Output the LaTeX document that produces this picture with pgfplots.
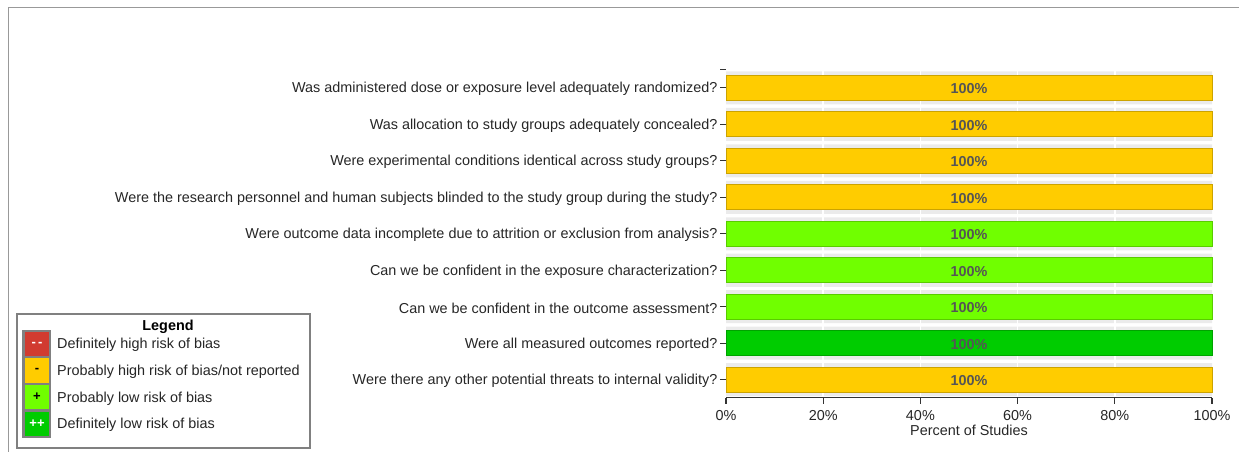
\documentclass[border=0pt]{standalone}
\usepackage{pgfplots}
\pgfplotsset{compat=1.18}
\usepackage{fontspec}
\setmainfont{Liberation Sans}

\definecolor{rred}{HTML}{D13B30}
\definecolor{ryellow}{HTML}{FFCC00}
\definecolor{ryellowd}{HTML}{CCA300}
\definecolor{lgreen}{HTML}{70FF00}
\definecolor{lgreend}{HTML}{59CC00}
\definecolor{dgreen}{HTML}{00CC00}
\definecolor{dgreend}{HTML}{00A300}
\definecolor{bandgray}{HTML}{EBEBEB}
\definecolor{pcttext}{HTML}{555555}
\definecolor{axisgray}{HTML}{333333}

\begin{document}
\begin{tikzpicture}[x=1pt,y=1pt]
\path[use as bounding box] (0,0) rectangle (1239,452);
\draw[gray!80, line width=1pt] (8,0) -- (8,444) -- (1239,444);

\begin{axis}[
    at={(726pt,54pt)}, anchor=south west,
    scale only axis,
    width=486pt, height=328.5pt,
    xmin=0, xmax=100,
    ymin=0.5, ymax=9.5,
    axis x line*=bottom,
    axis y line*=left,
    y axis line style={draw=none},
    x axis line style={draw=axisgray, line width=1pt},
    tick align=outside,
    major tick length=6pt,
    tick style={axisgray, line width=1.1pt},
    xtick={0,20,40,60,80,100},
    xticklabel={\pgfmathprintnumber{\tick}\%},
    xticklabel style={yshift=-3pt},
    ytick={1,2,3,4,5,6,7,8,9},
    yticklabels={
        Were there any other potential threats to internal validity?,
        Were all measured outcomes reported?,
        Can we be confident in the outcome assessment?,
        Can we be confident in the exposure characterization?,
        Were outcome data incomplete due to attrition or exclusion from analysis?,
        Were the research personnel and human subjects blinded to the study group during the study?,
        Were experimental conditions identical across study groups?,
        Was allocation to study groups adequately concealed?,
        Was administered dose or exposure level adequately randomized?},
    yticklabel style={yshift=-1.5pt, xshift=1pt},
    extra y ticks={9.5},
    extra y tick labels={},
    tick label style={font=\fontsize{14.4}{16}\selectfont, text=black!85},
    /pgf/number format/assume math mode=true,
    xlabel={Percent of Studies},
    xlabel style={font=\fontsize{14.4}{16}\selectfont, text=black!85, yshift=3pt},
    clip=false,
]

% row backgrounds
\addplot[xbar, bar width=33pt, bar shift=0pt, fill=bandgray, draw=none]
    coordinates {(100,1)(100,2)(100,3)(100,4)(100,5)(100,6)(100,7)(100,8)(100,9)};
% white grid lines
\addplot[white, line width=1.5pt] coordinates {(20,0.54)(20,9.46)};
\addplot[white, line width=1.5pt] coordinates {(40,0.54)(40,9.46)};
\addplot[white, line width=1.5pt] coordinates {(60,0.54)(60,9.46)};
\addplot[white, line width=1.5pt] coordinates {(80,0.54)(80,9.46)};

\pgfplotsset{every node near coord/.append style={anchor=center, xshift=-243pt, yshift=-1pt,
    font=\fontsize{14.4}{16}\selectfont\bfseries, text=pcttext}}

% probably high risk / not reported
\addplot[xbar, bar width=25pt, bar shift=0pt, fill=ryellow, draw=ryellowd, line width=1pt,
    nodes near coords={\pgfmathprintnumber{\pgfplotspointmeta}\%}, point meta=x]
    coordinates {(100,9)(100,8)(100,7)(100,6)(100,1)};
% probably low risk
\addplot[xbar, bar width=25pt, bar shift=0pt, fill=lgreen, draw=lgreend, line width=1pt,
    nodes near coords={\pgfmathprintnumber{\pgfplotspointmeta}\%}, point meta=x]
    coordinates {(100,5)(100,4)(100,3)};
% definitely low risk
\addplot[xbar, bar width=25pt, bar shift=0pt, fill=dgreen, draw=dgreend, line width=1pt,
    nodes near coords={\pgfmathprintnumber{\pgfplotspointmeta}\%}, point meta=x]
    coordinates {(100,2)};
\end{axis}

% legend
\draw[gray, line width=2.5pt, fill=white] (17,4) rectangle (310,138);
\node[font=\fontsize{14.4}{16}\selectfont\bfseries] at (168,125) {Legend};
\fill[gray] (22,14) rectangle (51,122);
\fill[rred] (25,96) rectangle (49,120);
\fill[ryellow] (25,69) rectangle (49,94);
\fill[lgreen] (25,43) rectangle (49,67);
\fill[dgreen] (25,16) rectangle (49,40);
\begin{scope}[every node/.style={font=\fontsize{13}{15}\selectfont\bfseries}]
\node[white] at (37,108) {-\,-};
\node[black] at (37,81.5) {-};
\node[black] at (37,55) {+};
\node[white] at (37,28) {++};
\end{scope}
\begin{scope}[every node/.style={anchor=west, font=\fontsize{14.4}{16}\selectfont, text=black!85, inner sep=0pt}]
\node at (57,107.5) {Definitely high risk of bias};
\node at (57,80.5) {Probably high risk of bias/not reported};
\node at (57,53.5) {Probably low risk of bias};
\node at (57,27.5) {Definitely low risk of bias};
\end{scope}
\end{tikzpicture}
\end{document}
